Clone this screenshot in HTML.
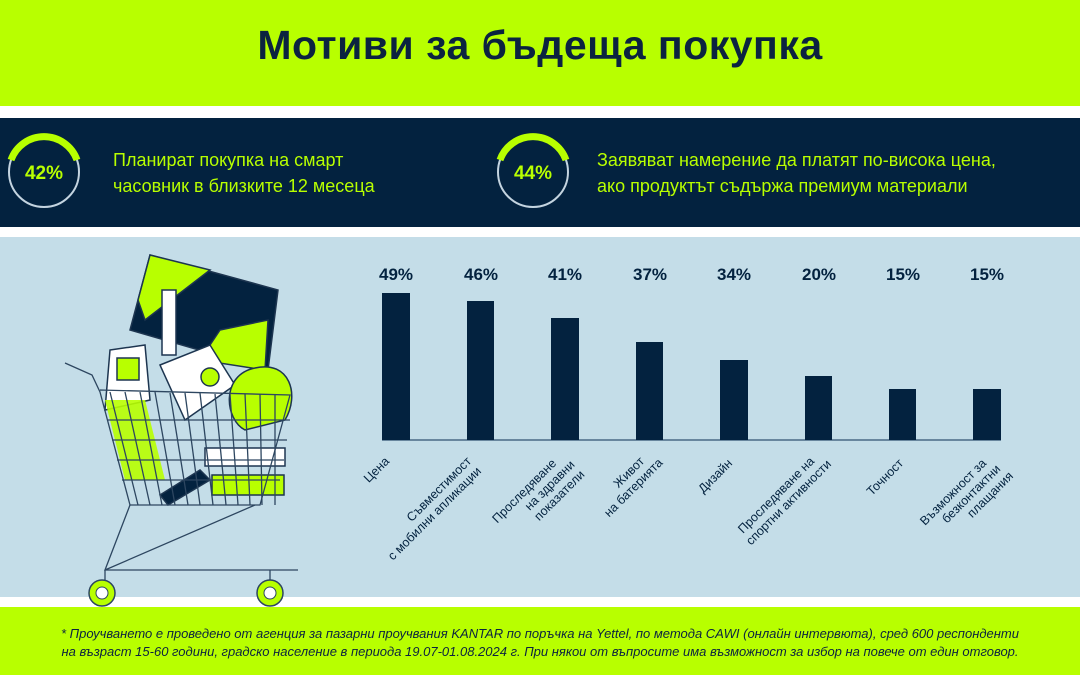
<!DOCTYPE html>
<html><head><meta charset="utf-8"><style>
body{margin:0;width:1080px;height:675px;overflow:hidden;font-family:"Liberation Sans","DejaVu Sans",sans-serif;background:#fff;position:relative}
.a{position:absolute}
</style></head><body>
<div class="a" style="left:0;top:0;width:1080px;height:106px;background:#b8ff00"></div>
<div class="a" style="left:0;top:22px;width:1080px;text-align:center;font-size:41px;font-weight:bold;color:#0b2340;letter-spacing:0.5px">Мотиви за бъдеща покупка</div>
<div class="a" style="left:0;top:118px;width:1080px;height:109px;background:#03223f"></div>
<div class="a" style="left:0;top:237px;width:1080px;height:360px;background:#c4dde8"></div>
<div class="a" style="left:0;top:607px;width:1080px;height:68px;background:#b8ff00"></div>
<div class="a" style="left:0;top:625px;width:1080px;text-align:center;font-size:13px;font-style:italic;color:#0b2340;line-height:18px">* Проучването е проведено от агенция за пазарни проучвания KANTAR по поръчка на Yettel, по метода CAWI (онлайн интервюта), сред 600 респонденти<br>на възраст 15-60 години, градско население в периода 19.07-01.08.2024 г. При някои от въпросите има възможност за избор на повече от един отговор.</div>
<svg class="a" style="left:0;top:0" width="1080" height="675">
<g fill="none" stroke-width="3">
<circle cx="44" cy="172" r="35" stroke="#c4d4e0" stroke-width="2"/>
<path d="M11 160 A35 35 0 0 1 77 160" stroke="#b8ff00" stroke-width="7"/>
<circle cx="533" cy="172" r="35" stroke="#c4d4e0" stroke-width="2"/>
<path d="M500 160 A35 35 0 0 1 566 160" stroke="#b8ff00" stroke-width="7"/>
</g>
<g fill="#b8ff00" font-size="19" font-weight="bold" text-anchor="middle"><text x="44" y="179">42%</text><text x="533" y="179">44%</text></g>
<g fill="#b8ff00" font-size="18"><text x="113" y="166">Планират покупка на смарт</text><text x="113" y="192">часовник в близките 12 месеца</text>
<text x="597" y="166">Заявяват намерение да платят по-висока цена,</text><text x="597" y="192">ако продуктът съдържа премиум материали</text></g>
<line x1="382" y1="440" x2="1001" y2="440" stroke="#4a6a85" stroke-width="1.5"/>
<g fill="#03223f">
<rect x="382" y="293" width="28" height="147"/><rect x="467" y="301" width="27" height="139"/>
<rect x="551" y="318" width="28" height="122"/><rect x="636" y="342" width="27" height="98"/>
<rect x="720" y="360" width="28" height="80"/><rect x="805" y="376" width="27" height="64"/>
<rect x="889" y="389" width="27" height="51"/><rect x="973" y="389" width="28" height="51"/>
</g>
<g fill="#03223f" font-size="17" font-weight="bold" text-anchor="middle">
<text x="396" y="280">49%</text><text x="481" y="280">46%</text><text x="565" y="280">41%</text><text x="650" y="280">37%</text>
<text x="734" y="280">34%</text><text x="819" y="280">20%</text><text x="903" y="280">15%</text><text x="987" y="280">15%</text></g>
<g fill="#03223f" font-size="12.5" text-anchor="end">
<text transform="translate(390,462) rotate(-45)">Цена</text>
<text transform="translate(472,462) rotate(-45)"><tspan x="0" y="0">Съвместимост</tspan><tspan x="0" y="14">с мобилни апликации</tspan></text>
<text transform="translate(557,464) rotate(-45)"><tspan x="0" y="0">Проследяване</tspan><tspan x="12" y="14">на здравни</tspan><tspan x="12" y="28">показатели</tspan></text>
<text transform="translate(645,462) rotate(-45)"><tspan x="0" y="0">Живот</tspan><tspan x="12" y="14">на батерията</tspan></text>
<text transform="translate(733,464) rotate(-45)">Дизайн</text>
<text transform="translate(815,462) rotate(-45)"><tspan x="0" y="0">Проследяване на</tspan><tspan x="10" y="14">спортни активности</tspan></text>
<text transform="translate(904,464) rotate(-45)">Точност</text>
<text transform="translate(987,464) rotate(-45)"><tspan x="0" y="0">Възможност за</tspan><tspan x="6" y="14">безконтактни</tspan><tspan x="10" y="28">плащания</tspan></text>
</g>
<g stroke="#1d3550" stroke-width="1.5">
<polygon points="150,255 278,290 268,370 130,330" fill="#03223f"/>
<polygon points="150,255 210,270 145,320 138,300" fill="#b8ff00"/>
<polygon points="220,330 268,320 265,370 200,360" fill="#b8ff00"/>
<polygon points="162,290 176,290 176,355 162,355" fill="#fff"/>
<polygon points="110,350 145,345 150,400 105,410" fill="#fff"/>
<rect x="117" y="358" width="22" height="22" fill="#b8ff00"/>
<polygon points="160,365 210,345 235,385 185,420" fill="#fff"/>
<circle cx="210" cy="377" r="9" fill="#b8ff00"/>
<path d="M255 368 C290 360 300 395 285 420 L245 430 C225 420 220 375 255 368Z" fill="#b8ff00"/>
<rect x="205" y="448" width="80" height="18" fill="#fff"/>
<rect x="212" y="475" width="72" height="20" fill="#b8ff00"/>
<polygon points="160,495 200,470 210,480 168,505" fill="#03223f"/>
<polygon points="105,400 145,400 165,480 125,480" fill="#b8ff00" stroke="none" opacity="0.9"/>
</g>
<g stroke="#2d4660" stroke-width="1.3" fill="none">
<path d="M65 363 L92 375 L100 392 L130 505 L260 505 L290 395 L100 390"/>
<path d="M108 420 L290 420 M112 440 L287 440 M117 460 L284 460 M122 480 L280 480"/>
<path d="M110 392 L138 505 M125 392 L150 505 M140 392 L162 505 M155 392 L175 505 M170 393 L188 505 M185 393 L200 505 M200 393 L213 505 M215 394 L226 505 M230 394 L238 505 M245 394 L250 505 M260 394 L262 505 M275 395 L275 505"/>
<path d="M130 505 L105 570 L298 570 M255 505 L105 570"/>
<path d="M105 570 L105 592 M270 570 L270 592"/>
</g>
<g stroke="#2d4660" stroke-width="1.5" fill="#b8ff00">
<circle cx="102" cy="593" r="13"/><circle cx="270" cy="593" r="13"/></g>
<g fill="#fff" stroke="#2d4660"><circle cx="102" cy="593" r="6"/><circle cx="270" cy="593" r="6"/></g>
</svg>
</body></html>
